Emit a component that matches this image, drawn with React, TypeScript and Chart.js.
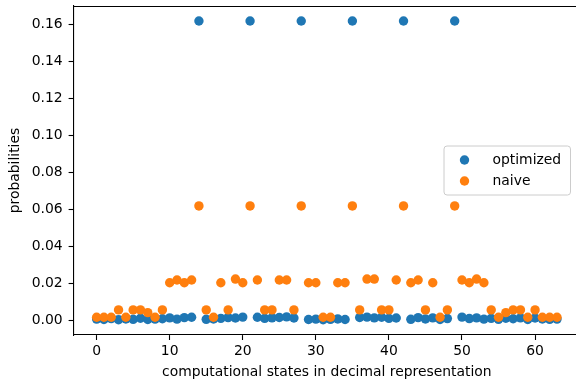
import { useEffect, useRef } from 'react';
import { Chart, registerables } from 'chart.js';

Chart.register(...registerables);

const states = [
  0, 1, 2, 3, 4, 5, 6, 7, 8, 9, 10, 11, 12, 13, 14, 15, 16, 17, 18, 19, 20, 21, 22, 23, 24, 25, 26, 27, 28, 29, 30, 31,
  32, 33, 34, 35, 36, 37, 38, 39, 40, 41, 42, 43, 44, 45, 46, 47, 48, 49, 50, 51, 52, 53, 54, 55, 56, 57, 58, 59, 60, 61, 62, 63,
];

const optimized = [
  0.0005, 0.0003, 0.0008, 0.0002, 0.0006, 0.0004, 0.001, 0.0003, 0.0005, 0.0007, 0.0012, 0.0005, 0.0013, 0.0015, 0.162, 0.0004,
  0.0006, 0.0009, 0.0013, 0.0011, 0.0016, 0.162, 0.0015, 0.0009, 0.0012, 0.0014, 0.0017, 0.0011, 0.162, 0.0003, 0.0005, 0.0002,
  0.0004, 0.0006, 0.0003, 0.162, 0.0014, 0.0016, 0.0012, 0.0015, 0.0009, 0.0011, 0.162, 0.0004, 0.0013, 0.0006, 0.0012, 0.0003,
  0.0008, 0.162, 0.0016, 0.0008, 0.0012, 0.0005, 0.0009, 0.0004, 0.001, 0.0007, 0.0012, 0.0003, 0.0011, 0.0006, 0.0004, 0.0005,
];

const naive = [
  0.0015, 0.0015, 0.0015, 0.0055, 0.0015, 0.0055, 0.0055, 0.004, 0.0015, 0.0055, 0.0202, 0.0217, 0.0202, 0.0217, 0.0618, 0.0055,
  0.0015, 0.0202, 0.0055, 0.0222, 0.0202, 0.0618, 0.0217, 0.0055, 0.0055, 0.0217, 0.0217, 0.0055, 0.0618, 0.0202, 0.0202, 0.0015,
  0.0015, 0.0202, 0.0202, 0.0618, 0.0055, 0.0222, 0.0222, 0.0055, 0.0055, 0.0217, 0.0618, 0.0202, 0.0217, 0.0055, 0.0202, 0.0015,
  0.0055, 0.0618, 0.0217, 0.0202, 0.0222, 0.0202, 0.0055, 0.0015, 0.004, 0.0055, 0.0055, 0.0015, 0.0055, 0.0015, 0.0015, 0.0015,
];

const xTicks = [0, 10, 20, 30, 40, 50, 60];
const yTicks = [0, 0.02, 0.04, 0.06, 0.08, 0.1, 0.12, 0.14, 0.16];

const seriesNames = ['optimized', 'naive'];
const seriesColors = ['#1f77b4', '#ff7f0e'];

const FONT = 'DejaVu Sans';
const FS = 13.9;

const framePlugin = {
  id: 'mplFrame',
  afterDraw(chart: any) {
    const { ctx, chartArea: a } = chart;
    ctx.save();
    ctx.strokeStyle = '#000';
    ctx.lineWidth = 1.1;
    ctx.beginPath();
    ctx.moveTo(a.left, a.top + 0.5);
    ctx.lineTo(a.right, a.top + 0.5);
    ctx.stroke();

    // legend (matplotlib style, center right)
    const w = 126.5;
    const h = 49;
    const x = a.right - 10 - w;
    const y = (a.top + a.bottom) / 2 - h / 2 - 0.5;
    ctx.beginPath();
    ctx.roundRect(x + 0.5, y + 0.5, w, h, 3);
    ctx.fillStyle = 'rgba(255,255,255,0.8)';
    ctx.fill();
    ctx.strokeStyle = '#cccccc';
    ctx.lineWidth = 1;
    ctx.stroke();
    ctx.font = `${FS}px "${FONT}"`;
    ctx.textBaseline = 'middle';
    ctx.textAlign = 'left';
    seriesNames.forEach((name, i) => {
      const cy = y + 14.5 + i * 21;
      ctx.beginPath();
      ctx.arc(x + 21, cy, 4.7, 0, Math.PI * 2);
      ctx.fillStyle = seriesColors[i];
      ctx.fill();
      ctx.fillStyle = '#000';
      ctx.fillText(name, x + 49, cy);
    });
    ctx.restore();
  },
};

export default function App() {
  const ref = useRef<HTMLCanvasElement>(null);

  useEffect(() => {
    if (!ref.current) return;
    const chart = new Chart(ref.current, {
      type: 'scatter',
      data: {
        datasets: [
          {
            label: seriesNames[0],
            data: states.map((s, i) => ({ x: s, y: optimized[i] })),
            backgroundColor: seriesColors[0],
            borderWidth: 0,
            pointRadius: 4.7,
            order: 2,
          },
          {
            label: seriesNames[1],
            data: states.map((s, i) => ({ x: s, y: naive[i] })),
            backgroundColor: seriesColors[1],
            borderWidth: 0,
            pointRadius: 4.7,
            order: 1,
          },
        ],
      },
      options: {
        responsive: false,
        animation: false,
        events: [],
        layout: { autoPadding: false, padding: { top: 6, left: 0, right: 0, bottom: 0 } },
        plugins: {
          legend: { display: false },
          tooltip: { enabled: false },
        },
        scales: {
          x: {
            type: 'linear',
            min: -3.15,
            max: 66.15,
            afterBuildTicks: (s: any) => {
              s.ticks = xTicks.map((v) => ({ value: v }));
            },
            afterFit: (s: any) => {
              s.height = 52;
              s.paddingLeft = 0;
              s.paddingRight = 0;
            },
            grid: { drawOnChartArea: false, drawTicks: true, tickLength: 5, tickColor: '#000', tickWidth: 1.1 },
            border: { display: true, color: '#000', width: 1.1 },
            ticks: {
              color: '#000',
              font: { family: FONT, size: FS },
              padding: 3,
              maxRotation: 0,
              callback: (v: any) => String(v),
            },
            title: {
              display: true,
              text: 'computational states in decimal representation',
              color: '#000',
              font: { family: FONT, size: FS },
              padding: { top: 0, bottom: 6 },
            },
          },
          y: {
            type: 'linear',
            min: -0.0081,
            max: 0.1701,
            afterBuildTicks: (s: any) => {
              s.ticks = yTicks.map((v) => ({ value: v }));
            },
            afterFit: (s: any) => {
              s.width = 73.6;
              s.paddingTop = 0;
              s.paddingBottom = 0;
            },
            grid: { drawOnChartArea: false, drawTicks: true, tickLength: 5, tickColor: '#000', tickWidth: 1.1 },
            border: { display: true, color: '#000', width: 1.1 },
            ticks: {
              color: '#000',
              font: { family: FONT, size: FS },
              padding: 6,
              callback: (v: any) => Number(v).toFixed(2),
            },
            title: {
              display: true,
              text: 'probabilities',
              color: '#000',
              font: { family: FONT, size: FS },
              padding: { top: 7.5, bottom: 0 },
            },
          },
        },
      },
      plugins: [framePlugin],
    });
    return () => chart.destroy();
  }, []);

  return (
    <div
      style={{
        position: 'absolute',
        left: 0,
        top: 0,
        width: 576,
        height: 387,
        overflow: 'hidden',
        background: '#fff',
      }}
    >
      <canvas ref={ref} width={580} height={387} style={{ display: 'block' }} />
    </div>
  );
}
